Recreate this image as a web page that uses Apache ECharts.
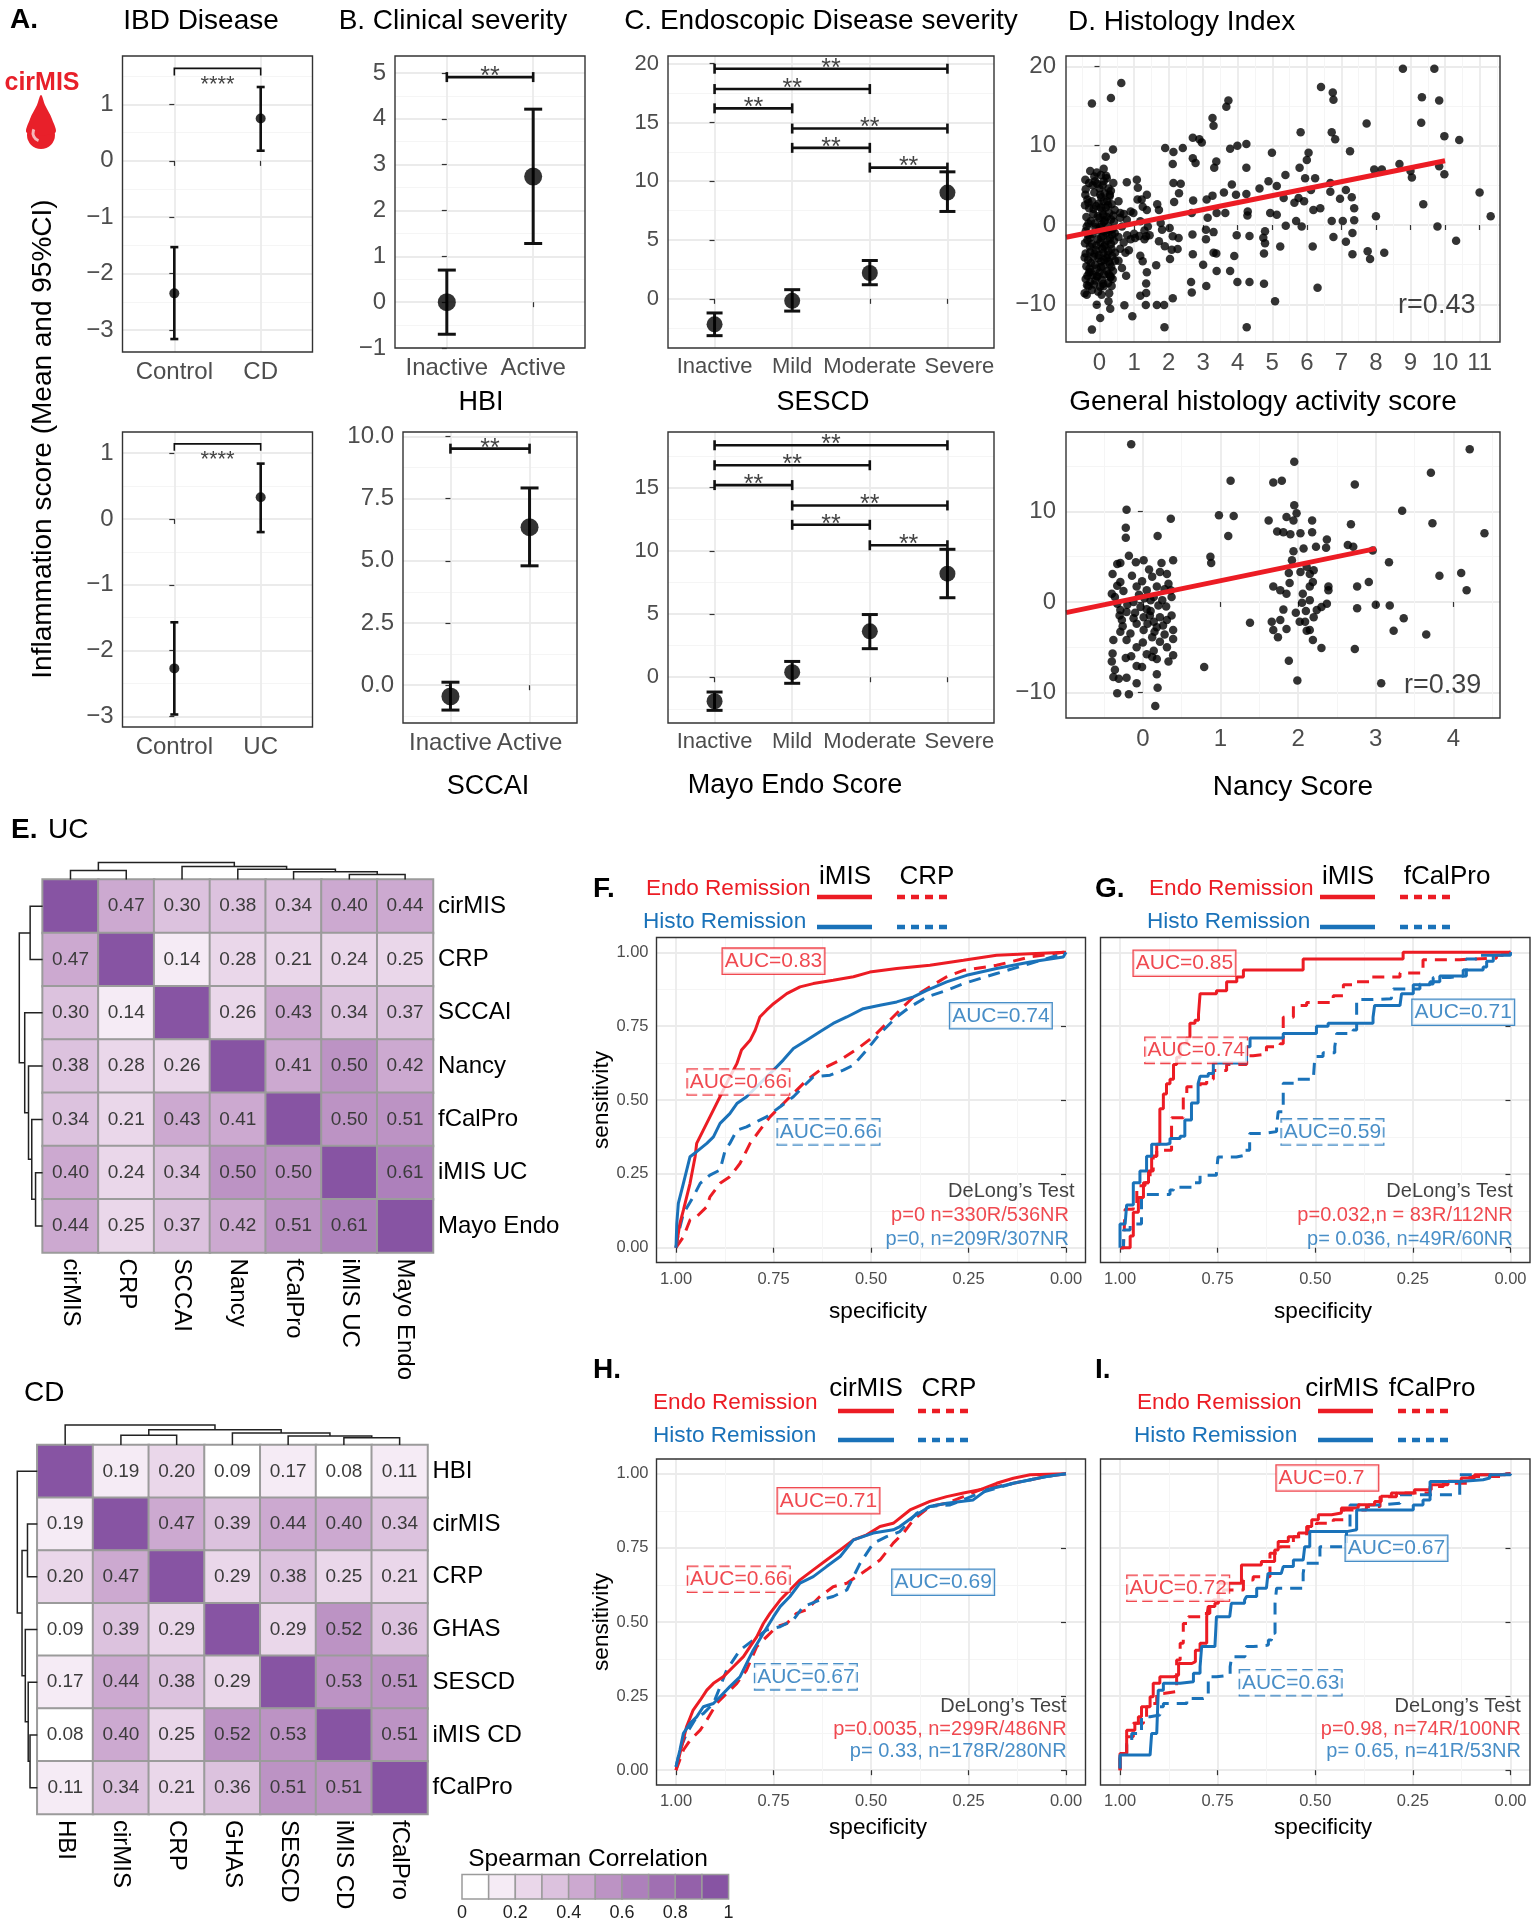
<!DOCTYPE html>
<html>
<head>
<meta charset="utf-8">
<script src="https://cdn.jsdelivr.net/npm/echarts@6.0.0/dist/echarts.min.js"></script>
<style>
  html, body { margin: 0; padding: 0; background: #fff; }
  #chart { width: 1537px; height: 1920px; }
</style>
</head>
<body>
<div id="chart"></div>
<script>
// ---------- data ----------
// A. IBD disease (mean and 95% CI)
const groupsCD = ["Control", "CD"]
const meanCD = [-2.35, 0.75]
const lowCD = [-3.16, 0.18]
const highCD = [-1.53, 1.31]
const groupsUC = ["Control", "UC"]
const meanUC = [-2.27, 0.33]
const lowUC = [-2.97, -0.2]
const highUC = [-1.57, 0.84]

// B. clinical severity
const activity = ["Inactive", "Active"]
const meanHBI = [0, 2.74]
const lowHBI = [-0.7, 1.28]
const highHBI = [0.7, 4.21]
const meanSCCAI = [-0.45, 6.35]
const lowSCCAI = [-1.0, 4.8]
const highSCCAI = [0.12, 7.93]

// C. endoscopic severity
const severity = ["Inactive", "Mild", "Moderate", "Severe"]
const meanSESCD = [-2.17, -0.17, 2.2, 9.04]
const lowSESCD = [-3.13, -1.04, 1.2, 7.43]
const highSESCD = [-1.2, 0.78, 3.26, 10.8]
const meanMayo = [-1.9, 0.4, 3.63, 8.19]
const lowMayo = [-2.62, -0.48, 2.26, 6.29]
const highMayo = [-1.17, 1.25, 4.96, 10.12]

// significance brackets: [from, to, height]
const bracketsCD = [[0, 1, 1.64]]
const bracketsUC = [[0, 1, 1.14]]
const bracketsHBI = [[0, 1, 4.91]]
const bracketsSCCAI = [[0, 1, 9.51]]
const bracketsSESCD = [[0, 3, 19.57], [0, 2, 17.84], [0, 1, 16.2], [1, 3, 14.48], [1, 2, 12.84], [2, 3, 11.16]]
const bracketsMayo = [[0, 3, 18.35], [0, 2, 16.77], [0, 1, 15.2], [1, 3, 13.59], [1, 2, 12.06], [2, 3, 10.44]]

// tick values
const ticksA = [-3, -2, -1, 0, 1]
const ticksHBI = [-1, 0, 1, 2, 3, 4, 5]
const ticksSCCAI = [0, 2.5, 5, 7.5, 10]
const ticksSESCD = [0, 5, 10, 15, 20]
const ticksMayo = [0, 5, 10, 15]
const ticksGhasX = [0, 1, 2, 3, 4, 5, 6, 7, 8, 9, 10, 11]
const ticksGhasY = [-10, 0, 10, 20]
const ticksNancyX = [0, 1, 2, 3, 4]
const ticksNancyY = [-10, 0, 10]
const ticksRoc = [0, 0.25, 0.5, 0.75, 1]

// D. histology index: [score, inflammation score]
const ghasPoints = [
  [-0.4,4.5],[-0.35,3.2],[-0.3,2.1],[-0.38,1.0],[-0.32,0.2],[-0.4,-0.8],[-0.35,-1.9],[-0.28,-2.7],[-0.4,-3.6],[-0.33,-4.4],[-0.38,-5.2],[-0.3,-6.0],[-0.4,-6.8],[-0.36,-7.6],
  [-0.2,5.0],[-0.15,4.1],[-0.22,3.0],[-0.1,2.4],[-0.18,1.4],[-0.25,0.5],[-0.12,-0.3],[-0.2,-1.1],[-0.05,-1.8],[-0.22,-2.4],[-0.1,-3.2],[-0.18,-4.0],[-0.25,-4.8],[-0.08,-5.5],[-0.2,-6.3],[-0.12,-7.0],[-0.22,-8.2],
  [0.0,4.6],[0.05,3.5],[-0.02,2.7],[0.08,1.8],[0.0,0.9],[0.06,0.1],[-0.03,-0.7],[0.1,-1.4],[0.02,-2.2],[0.08,-3.0],[-0.02,-3.8],[0.05,-4.6],[0.1,-5.2],[0.0,-6.0],[0.07,-6.9],[0.02,-7.8],
  [0.15,4.0],[0.22,3.0],[0.18,2.2],[0.28,1.5],[0.15,0.6],[0.25,-0.2],[0.2,-1.0],[0.3,-1.7],[0.16,-2.5],[0.26,-3.3],[0.2,-4.2],[0.3,-4.9],[0.22,-5.8],[0.32,-6.6],[0.25,-7.3],
  [0.35,2.6],[0.4,1.2],[0.38,-0.5],[0.42,-2.0],[0.35,-3.0],[0.45,-4.5],[0.38,-6.8],[0.42,0.4],[0.3,3.8],[0.12,5.5],
  [-0.42,2.5],[-0.37,-0.2],[-0.33,-1.3],[-0.42,-2.3],[-0.27,-3.4],[-0.43,-4.1],[-0.29,-5.5],[-0.35,-6.4],[-0.27,-7.2],[-0.43,-8.6],[-0.3,5.3],[-0.15,6.1],[-0.07,5.2],
  [-0.17,2.0],[-0.05,1.1],[-0.14,0.2],[-0.27,-1.6],[-0.09,-2.6],[-0.15,-3.6],[-0.03,-4.2],[-0.13,-5.0],[-0.26,-5.9],[-0.06,-6.5],[-0.16,-7.5],[-0.04,-8.4],[0.04,6.3],
  [0.09,5.0],[0.12,3.0],[0.04,2.2],[0.11,1.3],[0.13,0.4],[0.02,-0.3],[0.14,-0.8],[0.05,-1.6],[0.13,-2.7],[0.11,-3.5],[0.14,-4.4],[0.04,-5.3],[0.13,-6.2],[0.11,-7.4],
  [0.06,-8.8],[0.19,6.2],[0.26,4.6],[0.33,4.3],[0.25,2.5],[0.21,1.0],[0.33,0.7],[0.29,-0.7],[0.36,-1.2],[0.24,-2.0],[0.33,-2.4],[0.23,-3.8],[0.37,-3.9],[0.27,-4.6],
  [0.34,-5.3],[0.27,-6.2],[0.39,-5.8],[0.35,-7.7],[0.28,-8.6],[0.44,-1.0],[0.44,1.9],[0.45,-3.5],
  [-0.22,15.3],[0.33,16.0],[0.63,17.9],[0.39,9.5],[0.18,8.6],[0.12,7.1],[-0.27,6.8],[-0.08,6.6],[-0.41,5.7],[0.21,5.9],[0.4,5.3],[-0.13,5.5],[0.79,5.4],[1.08,5.7],[1.11,4.7],
  [-0.41,3.8],[0.02,3.8],[0.29,3.6],[1.37,3.8],[1.22,3.2],[-0.32,2.8],[1.67,2.6],[1.72,1.9],[0.6,1.5],[0.98,1.5],[1.37,1.9],[1.18,0.46],[0.79,0.67],[1.77,0.25],[1.81,-0.59],
  [2.03,-0.38],[2.12,-1.43],[2.29,-1.64],[1.35,-1.43],[1.03,-1.64],[1.72,-2.06],[1.89,-2.69],[2.09,-3.11],[2.26,-3.03],[2.04,-4.29],[1.18,-3.87],[1.25,-4.58],[1.64,-5.08],[1.37,-5.97],
  [0.65,-5.42],[0.77,-6.39],[1.35,-7.39],[1.35,-8.57],[1.18,-8.91],[2.12,-9.24],[-0.08,-10.04],[0.26,-9.62],[0.31,-10.55],[0.72,-10.13],[1.34,-10.08],[1.66,-10.08],[1.87,-10.08],
  [0.02,-11.72],[0.95,-11.51],[-0.22,-13.19],[1.88,-12.9],[-0.37,-8.78],[-0.32,-7.73],[0.12,-7.73],[-0.08,-6.47],[0.31,-6.47],
  [0.55,-1.5],[0.6,-3.0],[0.7,-2.2],[0.8,-1.3],[0.9,-1.8],[1.0,-1.1],[1.15,-1.4],[1.3,-0.7],[1.4,-0.2],[0.6,0.9],[0.7,1.4],[0.9,1.7],[1.25,2.3],[1.1,3.2],
  [0.55,-4.5],[0.75,-3.5],[0.85,-3.2],[1.3,-1.8],[1.45,-1.3],[0.55,3.0],[0.65,-0.2],
  [1.9,9.7],[2.14,9.2],[2.41,9.7],[2.12,7.7],[2.14,5.3],[2.35,5.2],[2.3,4.0],[2.16,2.9],[2.7,11.0],[2.89,10.8],[2.96,10.4],[2.7,8.4],[2.78,7.8],[2.71,3.1],[2.67,1.5],
  [2.69,-1.2],[2.7,-3.7],[2.65,-7.2],[2.67,-8.5],
  [3.27,13.5],[3.3,12.5],[3.38,8.0],[3.32,7.2],[3.27,3.7],[3.1,3.2],[3.13,0.9],[3.39,1.5],[3.3,-0.9],[3.08,-0.6],[3.08,-1.8],[3.3,-3.5],[3.38,-3.6],[3.0,-5.0],[3.39,-5.8],[3.09,-7.7],
  [3.67,14.9],[3.73,15.7],[3.78,9.6],[3.99,10.0],[4.25,10.2],[3.6,4.1],[3.83,5.1],[3.95,3.8],[3.64,1.5],[4.25,7.2],[4.25,3.9],[4.29,1.7],[4.28,1.2],[3.97,-1.3],[4.34,-1.4],
  [3.9,-3.9],[3.78,-5.8],[3.99,-7.2],[4.34,-7.2],[4.26,-12.9],
  [4.63,4.6],[4.89,5.5],[4.99,9.1],[5.13,4.9],[4.94,1.5],[5.13,1.3],[4.79,-0.8],[4.74,-1.6],[4.79,-2.3],[5.23,-2.7],[4.76,-3.6],[4.76,-7.4],[5.08,-9.6],
  [5.38,6.3],[5.33,3.4],[5.39,-0.1],[5.69,0.5],[5.85,-0.2],[5.64,2.8],[5.76,3.4],[5.95,5.9],[5.82,11.7],[5.79,7.2],[6.0,8.2],[6.05,9.1],[5.92,3.0],[6.12,4.4],[6.24,5.9],
  [6.19,1.9],[6.39,2.1],[6.17,-2.7],[6.31,-7.9],
  [6.41,17.4],[6.75,16.7],[6.77,15.8],[6.72,11.7],[6.82,10.8],[6.68,5.3],[6.68,4.2],[6.72,0.5],[6.77,-1.5],[6.96,3.3],[7.04,0.5],[7.13,4.4],[7.13,-2.1],[7.25,9.3],
  [7.3,3.5],[7.37,2.1],[7.37,0.6],[7.32,-1.0],[7.32,-3.7],
  [7.73,12.8],[7.95,7.0],[8.17,7.0],[8.0,1.1],[7.76,-3.3],[7.83,-4.3],[8.24,-3.5],[8.68,7.7],[8.78,19.7],[9.0,6.8],[9.04,6.0],[9.33,16.1],[9.31,12.9],[9.37,2.6],
  [9.69,19.7],[9.83,15.7],[9.98,11.2],[9.83,7.4],[9.98,6.4],[9.78,-0.2],[10.32,-2.0],[10.41,10.7],[11.0,4.1],[11.32,1.1]
]
const ghasFit = [[-0.97, -1.55], [10, 8.1]]
const ghasR = "r=0.43"

const nancyPoints = [
  [-0.15,17.45],[-0.21,10.2],[-0.22,8.2],[-0.22,7.1],[-0.18,5.1],[-0.09,4.4],[0.01,4.6],[-0.33,4.2],[-0.29,4.3],[0.36,9.2],[0.19,7.3],[0.39,4.6],[0.24,4.3],[-0.39,3.1],
  [-0.33,1.8],[-0.4,0.9],[-0.29,2.2],[-0.36,0.55],[-0.08,1.7],[-0.01,2.3],[0.12,2.8],[0.18,1.7],[0.22,3.3],[0.31,3.1],[0.33,2.0],[0.36,1.3],[0.37,0.55],[0.05,1.3],[0.14,0.55],
  [-0.12,0],[-0.03,-0.55],[-0.29,-0.9],[-0.21,-1.1],[-0.12,-1.8],[-0.27,-2.0],[0.01,-1.7],[0.09,-1.5],[0.14,-2.2],[0.22,-1.7],[0.18,-2.8],[0.31,-2.0],[0.37,-1.5],[0.39,-3.1],
  [0.39,-4.1],[-0.29,-3.3],[-0.16,-3.5],[-0.21,-4.2],[-0.08,-5.0],[-0.38,-4.2],[0.01,-3.1],[0.12,-3.9],[0.22,-4.4],[0.31,-5.0],[0.39,-5.9],[0.14,-5.4],[0.12,-6.1],[0.18,-6.3],
  [-0.39,-5.7],[-0.4,-6.6],[-0.36,-7.5],[-0.38,-8.3],[-0.31,-8.5],[-0.21,-8.4],[-0.22,-6.2],[-0.08,-7.1],[-0.01,-7.2],[-0.08,-9.0],[0.18,-8.0],[0.19,-9.5],[-0.33,-10.1],
  [-0.18,-10.2],[0.16,-11.5],[-0.08,-2.4],[-0.2,-0.3],[0.05,-0.8],[0.25,0.2],[0.3,-0.5],[-0.05,0.8],[0.1,-1.0],[0.2,-0.4],[0.28,-3.6],[-0.25,1.2],[0.0,-4.5],[-0.3,-1.5],
  [0.08,3.6],[0.15,-3.3],[-0.26,-2.7],[0.06,-2.4],[0.26,-2.6],[-0.1,-1.2],[0.1,0.2],[-0.33,-0.2],[0.02,0.4],[0.28,1.4],[-0.14,2.9],[0.33,-6.6],[-0.15,-6.0],[0.05,-5.8],
  [0.87,5.0],[0.88,4.3],[0.79,-7.2],[0.98,9.6],[1.1,7.3],[1.13,13.4],[1.17,9.5],[1.38,-2.3],[1.62,9.0],[1.68,13.2],[1.79,13.4],[1.73,7.8],[1.81,7.7],[1.9,7.5],[1.85,9.4],
  [1.94,9.0],[1.95,10.7],[1.98,9.8],[1.95,15.5],[2.03,7.6],[2.18,7.7],[2.18,9.0],[2.07,5.9],[1.94,5.6],[2.23,6.1],[2.37,6.9],[2.36,6.0],[1.92,4.6],[1.88,3.2],[2.03,3.3],
  [2.11,3.9],[2.15,3.1],[2.2,3.5],[1.89,2.1],[1.68,1.7],[1.77,1.3],[1.85,0.9],[2.06,0.9],[2.15,1.7],[2.19,2.2],[2.39,1.7],[2.39,1.3],[2.05,-0.1],[2.15,0.2],[2.3,-0.55],
  [2.37,-0.2],[2.24,-0.9],[1.97,-1.2],[2.1,-1.0],[2.2,-1.7],[1.81,-0.85],[1.66,-2.2],[1.77,-2.0],[1.68,-3.1],[1.85,-3.0],[1.74,-3.9],[2.02,-2.2],[2.09,-2.2],[2.15,-3.1],
  [2.11,-3.2],[2.19,-4.2],[2.3,-5.1],[1.88,-6.5],[1.99,-8.7],
  [2.68,8.6],[2.64,6.3],[2.71,6.1],[2.73,13.0],[2.76,1.7],[2.76,-0.7],[2.73,-5.2],[2.91,2.2],[2.96,5.7],[3.0,-0.3],[3.07,-9.0],[3.17,4.4],[3.18,-0.4],[3.23,-3.2],
  [3.34,10.1],[3.36,-1.8],[3.65,-3.6],[3.71,14.3],[3.73,8.7],[3.82,2.9],[4.1,3.2],[4.17,1.3],[4.21,16.9],[4.4,7.6]
]
const nancyFit = [[-0.99, -1.18], [3, 5.9]]
const nancyR = "r=0.39"

// E. Spearman correlation matrices
const ucNames = ["cirMIS", "CRP", "SCCAI", "Nancy", "fCalPro", "iMIS UC", "Mayo Endo"]
const ucCorr = [
  [1, 0.47, 0.30, 0.38, 0.34, 0.40, 0.44],
  [0.47, 1, 0.14, 0.28, 0.21, 0.24, 0.25],
  [0.30, 0.14, 1, 0.26, 0.43, 0.34, 0.37],
  [0.38, 0.28, 0.26, 1, 0.41, 0.50, 0.42],
  [0.34, 0.21, 0.43, 0.41, 1, 0.50, 0.51],
  [0.40, 0.24, 0.34, 0.50, 0.50, 1, 0.61],
  [0.44, 0.25, 0.37, 0.42, 0.51, 0.61, 1]
]
const cdNames = ["HBI", "cirMIS", "CRP", "GHAS", "SESCD", "iMIS CD", "fCalPro"]
const cdCorr = [
  [1, 0.19, 0.20, 0.09, 0.17, 0.08, 0.11],
  [0.19, 1, 0.47, 0.39, 0.44, 0.40, 0.34],
  [0.20, 0.47, 1, 0.29, 0.38, 0.25, 0.21],
  [0.09, 0.39, 0.29, 1, 0.29, 0.52, 0.36],
  [0.17, 0.44, 0.38, 0.29, 1, 0.53, 0.51],
  [0.08, 0.40, 0.25, 0.52, 0.53, 1, 0.51],
  [0.11, 0.34, 0.21, 0.36, 0.51, 0.51, 1]
]
// dendrogram merges: [a, b, height]; index >= 7 is an earlier merge
const ucMerges = [[0, 1, 23], [5, 6, 13], [4, 8, 20], [3, 9, 26], [2, 10, 33], [7, 11, 43]]
const cdMerges = [[1, 2, 27], [5, 6, 20], [4, 8, 25], [3, 9, 33], [7, 10, 42], [0, 11, 55]]
const corrBreaks = [0, 0.1, 0.2, 0.3, 0.4, 0.5, 0.6, 0.7, 0.8, 0.9, 1.0]
const corrColors = ["#ffffff", "#f5ebf5", "#ead7ea", "#dcc2de", "#cca9d0", "#bc93c4", "#ad80bb", "#a06fb2", "#9461aa", "#8754a3"]
const legendTicks = [0, 0.2, 0.4, 0.6, 0.8, 1]

// F-I. ROC curves: [specificity, sensitivity]
const rocF_iMIS_endo = [[1,0],[0.99,0.082],[0.981,0.127],[0.964,0.218],[0.951,0.308],[0.947,0.353],[0.93,0.398],[0.913,0.443],[0.896,0.488],[0.879,0.533],[0.862,0.578],[0.844,0.623],[0.832,0.669],[0.81,0.702],[0.797,0.736],[0.785,0.781],[0.768,0.804],[0.75,0.826],[0.716,0.86],[0.682,0.883],[0.648,0.894],[0.597,0.905],[0.545,0.917],[0.503,0.933],[0.434,0.945],[0.349,0.956],[0.263,0.973],[0.178,0.99],[0.092,0.995],[0,1]]
const rocF_iMIS_histo = [[1,0],[0.998,0.082],[0.994,0.15],[0.981,0.218],[0.964,0.308],[0.947,0.325],[0.921,0.353],[0.904,0.375],[0.887,0.421],[0.862,0.454],[0.844,0.488],[0.819,0.511],[0.785,0.556],[0.75,0.601],[0.725,0.635],[0.699,0.674],[0.665,0.702],[0.631,0.731],[0.597,0.759],[0.562,0.781],[0.52,0.809],[0.477,0.821],[0.434,0.832],[0.391,0.849],[0.357,0.871],[0.306,0.9],[0.255,0.922],[0.178,0.945],[0.092,0.967],[0.007,0.984],[0,1]]
const rocF_CRP_endo = [[1,0],[0.981,0.037],[0.964,0.094],[0.947,0.105],[0.921,0.139],[0.913,0.172],[0.887,0.218],[0.862,0.24],[0.836,0.285],[0.81,0.353],[0.785,0.398],[0.759,0.443],[0.733,0.477],[0.699,0.522],[0.665,0.567],[0.631,0.601],[0.579,0.635],[0.528,0.68],[0.494,0.714],[0.46,0.759],[0.426,0.804],[0.391,0.849],[0.349,0.883],[0.306,0.917],[0.263,0.939],[0.178,0.956],[0.092,0.984],[0.007,1],[0,1]]
const rocF_CRP_histo = [[1,0],[0.994,0.048],[0.981,0.116],[0.956,0.172],[0.938,0.218],[0.913,0.246],[0.887,0.263],[0.874,0.33],[0.862,0.353],[0.844,0.398],[0.819,0.409],[0.785,0.432],[0.768,0.443],[0.733,0.477],[0.699,0.511],[0.674,0.545],[0.648,0.578],[0.605,0.584],[0.571,0.601],[0.545,0.618],[0.511,0.669],[0.477,0.725],[0.434,0.781],[0.4,0.815],[0.357,0.849],[0.306,0.871],[0.263,0.894],[0.178,0.928],[0.092,0.962],[0.007,0.995],[0,1]]

const rocG_iMIS_endo = [[1,0],[0.974,0.04],[0.966,0.12],[0.953,0.17],[0.94,0.22],[0.927,0.26],[0.919,0.31],[0.906,0.35],[0.898,0.47],[0.889,0.52],[0.881,0.555],[0.872,0.57],[0.863,0.62],[0.855,0.645],[0.846,0.69],[0.829,0.71],[0.821,0.76],[0.808,0.77],[0.799,0.79],[0.795,0.86],[0.753,0.87],[0.727,0.9],[0.701,0.916],[0.684,0.94],[0.531,0.977],[0.275,1],[0,1]]
const rocG_iMIS_histo = [[1,0],[1,0.08],[0.987,0.08],[0.983,0.145],[0.966,0.15],[0.966,0.22],[0.949,0.23],[0.949,0.26],[0.932,0.31],[0.919,0.35],[0.881,0.353],[0.872,0.37],[0.846,0.377],[0.834,0.432],[0.817,0.49],[0.8,0.555],[0.795,0.58],[0.774,0.59],[0.761,0.625],[0.676,0.68],[0.667,0.71],[0.582,0.725],[0.497,0.75],[0.467,0.76],[0.352,0.78],[0.348,0.82],[0.283,0.82],[0.279,0.86],[0.249,0.87],[0.249,0.89],[0.206,0.9],[0.181,0.92],[0.121,0.94],[0.07,0.95],[0.061,0.97],[0.044,0.99],[0,1]]
const rocG_fcal_endo = [[1,0],[0.991,0.01],[0.987,0.13],[0.966,0.14],[0.957,0.21],[0.936,0.22],[0.923,0.26],[0.915,0.31],[0.906,0.33],[0.881,0.33],[0.868,0.44],[0.838,0.51],[0.829,0.545],[0.795,0.555],[0.778,0.57],[0.761,0.6],[0.727,0.62],[0.676,0.65],[0.659,0.655],[0.625,0.68],[0.59,0.69],[0.582,0.78],[0.556,0.82],[0.522,0.83],[0.454,0.853],[0.428,0.89],[0.403,0.9],[0.36,0.916],[0.283,0.93],[0.224,0.975],[0.13,0.98],[0.036,0.99],[0.019,1],[0,1]]
const rocG_fcal_histo = [[1,0],[0.991,0.06],[0.974,0.08],[0.945,0.17],[0.932,0.18],[0.872,0.195],[0.863,0.205],[0.812,0.22],[0.795,0.245],[0.753,0.255],[0.749,0.307],[0.702,0.313],[0.681,0.33],[0.668,0.387],[0.633,0.393],[0.599,0.41],[0.595,0.46],[0.582,0.5],[0.582,0.557],[0.548,0.57],[0.505,0.574],[0.501,0.647],[0.48,0.66],[0.45,0.68],[0.445,0.725],[0.403,0.737],[0.394,0.84],[0.352,0.843],[0.305,0.85],[0.3,0.876],[0.232,0.893],[0.198,0.915],[0.155,0.92],[0.113,0.977],[0.078,0.99],[0.036,0.994],[0,1]]

const rocH_cir_endo = [[1,0],[0.99,0.056],[0.973,0.146],[0.956,0.203],[0.938,0.236],[0.921,0.27],[0.904,0.293],[0.879,0.315],[0.853,0.349],[0.827,0.383],[0.81,0.417],[0.793,0.45],[0.776,0.495],[0.759,0.529],[0.733,0.574],[0.708,0.608],[0.682,0.642],[0.648,0.676],[0.614,0.709],[0.579,0.743],[0.545,0.777],[0.511,0.794],[0.477,0.822],[0.443,0.833],[0.4,0.878],[0.349,0.907],[0.306,0.923],[0.263,0.935],[0.221,0.946],[0.178,0.968],[0.135,0.985],[0.092,0.997],[0,1]]
const rocH_cir_histo = [[1,0.011],[0.99,0.068],[0.981,0.124],[0.964,0.158],[0.947,0.18],[0.93,0.214],[0.904,0.225],[0.887,0.248],[0.862,0.282],[0.836,0.315],[0.819,0.36],[0.802,0.405],[0.776,0.462],[0.75,0.518],[0.733,0.552],[0.708,0.586],[0.682,0.631],[0.648,0.653],[0.614,0.687],[0.579,0.721],[0.545,0.777],[0.494,0.8],[0.443,0.811],[0.426,0.822],[0.391,0.856],[0.349,0.89],[0.306,0.901],[0.238,0.912],[0.203,0.946],[0.135,0.968],[0.05,0.991],[0,1]]
const rocH_crp_endo = [[1,0],[0.981,0.068],[0.964,0.101],[0.938,0.135],[0.921,0.169],[0.896,0.225],[0.87,0.259],[0.844,0.293],[0.819,0.338],[0.793,0.417],[0.768,0.45],[0.742,0.484],[0.716,0.495],[0.691,0.529],[0.665,0.541],[0.631,0.586],[0.597,0.619],[0.562,0.631],[0.537,0.653],[0.511,0.676],[0.477,0.709],[0.443,0.766],[0.417,0.8],[0.391,0.845],[0.349,0.89],[0.306,0.901],[0.263,0.923],[0.221,0.946],[0.135,0.968],[0.05,0.991],[0,1]]
const rocH_crp_histo = [[1,0.011],[0.99,0.068],[0.973,0.124],[0.947,0.18],[0.93,0.191],[0.904,0.225],[0.87,0.338],[0.836,0.405],[0.802,0.439],[0.768,0.473],[0.733,0.484],[0.699,0.507],[0.674,0.552],[0.631,0.574],[0.597,0.586],[0.562,0.608],[0.528,0.698],[0.494,0.766],[0.46,0.788],[0.426,0.805],[0.383,0.867],[0.349,0.89],[0.297,0.895],[0.221,0.935],[0.135,0.968],[0.05,0.991],[0,1]]

const rocI_cir_endo = [[1,0],[1,0.056],[0.983,0.1],[0.983,0.135],[0.962,0.158],[0.953,0.18],[0.945,0.214],[0.923,0.248],[0.915,0.293],[0.898,0.315],[0.863,0.321],[0.85,0.36],[0.816,0.366],[0.807,0.405],[0.795,0.428],[0.778,0.518],[0.774,0.552],[0.757,0.563],[0.748,0.631],[0.689,0.642],[0.689,0.692],[0.638,0.704],[0.604,0.743],[0.595,0.772],[0.569,0.788],[0.543,0.8],[0.518,0.822],[0.509,0.845],[0.492,0.862],[0.458,0.868],[0.433,0.885],[0.39,0.896],[0.348,0.907],[0.331,0.924],[0.305,0.935],[0.246,0.946],[0.203,0.963],[0.16,0.975],[0.126,0.986],[0.092,0.997],[0.015,1],[0,1]]
const rocI_cir_histo = [[1,0.006],[1,0.051],[0.923,0.051],[0.919,0.124],[0.906,0.124],[0.902,0.27],[0.889,0.293],[0.846,0.298],[0.812,0.327],[0.795,0.349],[0.791,0.417],[0.757,0.423],[0.753,0.518],[0.719,0.524],[0.715,0.563],[0.681,0.574],[0.676,0.586],[0.65,0.614],[0.625,0.619],[0.621,0.664],[0.587,0.67],[0.582,0.687],[0.556,0.709],[0.531,0.715],[0.527,0.754],[0.514,0.766],[0.514,0.805],[0.42,0.811],[0.394,0.833],[0.394,0.878],[0.249,0.884],[0.249,0.895],[0.224,0.912],[0.206,0.935],[0.206,0.974],[0.13,0.98],[0.07,0.986],[0.053,0.997],[0,1]]
const rocI_fcal_endo = [[1,0],[1,0.056],[0.983,0.113],[0.966,0.158],[0.94,0.18],[0.932,0.214],[0.919,0.225],[0.906,0.259],[0.889,0.265],[0.855,0.372],[0.846,0.428],[0.838,0.495],[0.825,0.518],[0.787,0.529],[0.77,0.552],[0.761,0.574],[0.735,0.608],[0.684,0.642],[0.659,0.653],[0.616,0.732],[0.59,0.754],[0.556,0.788],[0.522,0.822],[0.497,0.833],[0.454,0.845],[0.428,0.878],[0.369,0.89],[0.334,0.923],[0.292,0.935],[0.206,0.957],[0.172,0.968],[0.104,0.991],[0.019,1],[0,1]]
const rocI_fcal_histo = [[1,0.006],[1,0.056],[0.983,0.09],[0.97,0.124],[0.945,0.18],[0.923,0.186],[0.898,0.214],[0.889,0.225],[0.829,0.242],[0.787,0.248],[0.774,0.315],[0.753,0.321],[0.718,0.349],[0.714,0.383],[0.68,0.405],[0.676,0.417],[0.659,0.422],[0.62,0.439],[0.612,0.462],[0.603,0.563],[0.599,0.614],[0.539,0.614],[0.531,0.664],[0.527,0.698],[0.488,0.754],[0.471,0.754],[0.42,0.805],[0.411,0.895],[0.334,0.901],[0.283,0.929],[0.164,0.929],[0.13,0.997],[0.078,0.997],[0.027,1],[0,1]]

// AUC labels: [text, specificity, sensitivity] in order endo/marker1, histo/marker1, endo/marker2, histo/marker2
const aucF = [["AUC=0.83", 0.75, 0.97], ["AUC=0.74", 0.167, 0.785], ["AUC=0.66", 0.84, 0.561], ["AUC=0.66", 0.609, 0.392]]
const aucG = [["AUC=0.85", 0.835, 0.963], ["AUC=0.71", 0.121, 0.797], ["AUC=0.74", 0.805, 0.668], ["AUC=0.59", 0.456, 0.392]]
const aucH = [["AUC=0.71", 0.609, 0.909], ["AUC=0.69", 0.315, 0.634], ["AUC=0.66", 0.839, 0.644], ["AUC=0.67", 0.667, 0.315]]
const aucI = [["AUC=0.7  ", 0.469, 0.986], ["AUC=0.67", 0.292, 0.749], ["AUC=0.72", 0.851, 0.614], ["AUC=0.63", 0.563, 0.295]]

// DeLong notes: [text, right edge specificity, sensitivity]
const delongF = [["DeLong\u2019s Test", -0.023, 0.19], ["p=0 n=330R/536NR", -0.009, 0.108], ["p=0, n=209R/307NR", -0.009, 0.028]]
const delongG = [["DeLong\u2019s Test", -0.007, 0.189], ["p=0.032,n = 83R/112NR", -0.007, 0.108], ["p= 0.036, n=49R/60NR", -0.007, 0.028]]
const delongH = [["DeLong\u2019s Test", -0.003, 0.214], ["p=0.0035, n=299R/486NR", -0.003, 0.137], ["p= 0.33, n=178R/280NR", -0.003, 0.062]]
const delongI = [["DeLong\u2019s Test", -0.028, 0.214], ["p=0.98, n=74R/100NR", -0.028, 0.137], ["p= 0.65, n=41R/53NR", -0.028, 0.062]]

// ---------- layout and style ----------
const FONT = "'Liberation Sans', Arial, Helvetica, sans-serif"
const RED = "#ec1c24"
const BLUE = "#1a72b9"
const TICK = "#4d4d4d"
const DASH = [12, 8]

const layout = [
  { left: 122.5, top: 56, width: 190, height: 296 },      // 0 A top
  { left: 122.5, top: 432, width: 190, height: 295 },     // 1 A bottom
  { left: 395, top: 56, width: 190, height: 292 },        // 2 B top
  { left: 403, top: 432, width: 174, height: 291 },       // 3 B bottom
  { left: 668, top: 56, width: 326, height: 292 },        // 4 C top
  { left: 668, top: 432, width: 326, height: 291 },       // 5 C bottom
  { left: 1066, top: 56, width: 434, height: 286 },       // 6 D top
  { left: 1066, top: 432, width: 434, height: 286 },      // 7 D bottom
  { left: 656.5, top: 937.5, width: 429, height: 325 },   // 8 F
  { left: 1100.5, top: 937.5, width: 429.5, height: 325 },// 9 G
  { left: 656.5, top: 1459, width: 429, height: 326 },    // 10 H
  { left: 1100.5, top: 1459, width: 429.5, height: 326 }, // 11 I
  { left: 42.6, top: 879.6, width: 390.4, height: 373 },  // 12 UC heatmap
  { left: 37.3, top: 1445, width: 390.2, height: 369 },   // 13 CD heatmap
  { left: 42.6, top: 862.6, width: 390.4, height: 17 },   // 14 UC dendrogram top
  { left: 19.3, top: 879.6, width: 23.3, height: 373 },   // 15 UC dendrogram left
  { left: 37.3, top: 1425, width: 390.2, height: 20 },    // 16 CD dendrogram top
  { left: 17.3, top: 1445, width: 20, height: 369 },      // 17 CD dendrogram left
  { left: 462, top: 1874.6, width: 266.6, height: 24.4 }  // 18 colour legend
]

const minus = v => String(v).replace("-", "\u2212")

function ggAxis(gi, o) {
  return {
    type: "value", gridIndex: gi, min: o.min, max: o.max, inverse: !!o.inverse,
    minInterval: o.step, maxInterval: o.step,
    axisLine: { show: false },
    axisTick: { show: true, length: 5, lineStyle: { color: "#333", width: 1.2 }, customValues: o.ticks },
    axisLabel: {
      show: o.labels !== false, customValues: o.ticks, formatter: o.fmt || minus,
      fontFamily: FONT, fontSize: o.size || 24, color: TICK, margin: o.margin || 9,
      hideOverlap: false, showMinLabel: true, showMaxLabel: true, rich: o.rich
    },
    splitLine: { show: true, lineStyle: { color: "#ebebeb", width: 1.8 } },
    minorTick: { show: false, splitNumber: 2 },
    minorSplitLine: { show: o.minor !== false, lineStyle: { color: "#f5f5f5", width: 1 } }
  }
}
const hiddenAxis = (gi, min, max, inverse) => ({ type: "value", gridIndex: gi, min, max, inverse: !!inverse, show: false })

// axis i always belongs to grid i
const xAxes = new Array(layout.length)
const yAxes = new Array(layout.length)
const series = []

// ---------- A-C: mean and CI panels ----------
const ciPanels = [
  { g: 0, cats: groupsCD, mean: meanCD, low: lowCD, high: highCD, br: bracketsCD, stars: "****", kind: "A", y: [-3.39, 1.86], ticks: ticksA, step: 1 },
  { g: 1, cats: groupsUC, mean: meanUC, low: lowUC, high: highUC, br: bracketsUC, stars: "****", kind: "A", y: [-3.16, 1.32], ticks: ticksA, step: 1 },
  { g: 2, cats: activity, mean: meanHBI, low: lowHBI, high: highHBI, br: bracketsHBI, stars: "**", kind: "B", y: [-1, 5.37], ticks: ticksHBI, step: 1 },
  { g: 3, cats: activity, mean: meanSCCAI, low: lowSCCAI, high: highSCCAI, br: bracketsSCCAI, stars: "**", kind: "B", y: [-1.52, 10.18], ticks: ticksSCCAI, step: 2.5, fmt: v => v.toFixed(1) },
  { g: 4, cats: severity, mean: meanSESCD, low: lowSESCD, high: highSESCD, br: bracketsSESCD, stars: "**", kind: "C", y: [-4.18, 20.65], ticks: ticksSESCD, step: 5 },
  { g: 5, cats: severity, mean: meanMayo, low: lowMayo, high: highMayo, br: bracketsMayo, stars: "**", kind: "C", y: [-3.62, 19.4], ticks: ticksMayo, step: 5 }
]
const kindStyle = {
  A: { cap: 4, lw: 2.6, dot: 10, brw: 1.6, tick: 7, star: 22, starPos: "bottom", starDist: 5, label: 24 },
  B: { cap: 9, lw: 3, dot: 18, brw: 2.6, tick: 0, cap2: 5, star: 25, starPos: "top", starDist: -13, label: 24 },
  C: { cap: 8, lw: 3, dot: 16, brw: 2.6, tick: 0, cap2: 5, star: 25, starPos: "top", starDist: -13, label: 22 }
}

ciPanels.forEach(p => {
  const st = kindStyle[p.kind]
  const n = p.cats.length
  // the last category label sits a little to the right in the figure
  const last = n - 1
  xAxes[p.g] = ggAxis(p.g, {
    min: -0.6, max: n - 0.4, step: 1, ticks: p.cats.map((c, i) => i),
    fmt: v => (n > 2 && Math.round(v) === last ? "{s|" + p.cats[last] + "}" : p.cats[Math.round(v)] || ""),
    rich: { s: { padding: [0, 0, 0, 24], fontFamily: FONT, fontSize: st.label, color: TICK } },
    minor: false, size: st.label, margin: 8
  })
  yAxes[p.g] = ggAxis(p.g, { min: p.y[0], max: p.y[1], step: p.step, ticks: p.ticks, fmt: p.fmt, size: st.label, margin: 9 })

  series.push({
    type: "custom", xAxisIndex: p.g, yAxisIndex: p.g, silent: true, z: 3,
    data: p.low.map((l, i) => [i, l, p.high[i]]),
    renderItem(params, api) {
      const x = api.value(0)
      const lo = api.coord([x, api.value(1)])
      const hi = api.coord([x, api.value(2)])
      const style = { stroke: "#111", lineWidth: st.lw }
      return {
        type: "group", children: [
          { type: "line", shape: { x1: lo[0], y1: lo[1], x2: hi[0], y2: hi[1] }, style },
          { type: "line", shape: { x1: lo[0] - st.cap, y1: lo[1], x2: lo[0] + st.cap, y2: lo[1] }, style },
          { type: "line", shape: { x1: hi[0] - st.cap, y1: hi[1], x2: hi[0] + st.cap, y2: hi[1] }, style }
        ]
      }
    }
  })
  series.push({
    type: "scatter", xAxisIndex: p.g, yAxisIndex: p.g, silent: true, z: 4,
    symbolSize: st.dot, itemStyle: { color: "#000" },
    data: p.mean.map((m, i) => [i, m])
  })
  series.push({
    type: "custom", xAxisIndex: p.g, yAxisIndex: p.g, silent: true, z: 3,
    data: p.br,
    renderItem(params, api) {
      const y = api.value(2)
      const a = api.coord([api.value(0), y])
      const b = api.coord([api.value(1), y])
      const style = { stroke: "#111", lineWidth: st.brw, fill: "none" }
      if (p.kind === "A") {
        return { type: "polyline", shape: { points: [[a[0], a[1] + st.tick], a, b, [b[0], b[1] + st.tick]] }, style }
      }
      return {
        type: "group", children: [
          { type: "line", shape: { x1: a[0], y1: a[1], x2: b[0], y2: b[1] }, style },
          { type: "line", shape: { x1: a[0], y1: a[1] - st.cap2, x2: a[0], y2: a[1] + st.cap2 }, style },
          { type: "line", shape: { x1: b[0], y1: b[1] - st.cap2, x2: b[0], y2: b[1] + st.cap2 }, style }
        ]
      }
    }
  })
  series.push({
    type: "scatter", xAxisIndex: p.g, yAxisIndex: p.g, silent: true, z: 5,
    symbolSize: 1, itemStyle: { color: "rgba(0,0,0,0)" },
    label: {
      show: true, formatter: p.stars, position: st.starPos, distance: st.starDist,
      fontFamily: FONT, fontSize: st.star, color: "#111"
    },
    data: p.br.map(b => [(b[0] + b[1]) / 2, b[2]])
  })
})

// ---------- D: scatter with fitted line ----------
const scatterPanels = [
  { g: 6, pts: ghasPoints, fit: ghasFit, r: ghasR, rPos: [9.76, -10.2], x: [-0.97, 11.59], y: [-14.75, 21.3], xt: ticksGhasX, yt: ticksGhasY },
  { g: 7, pts: nancyPoints, fit: nancyFit, r: nancyR, rPos: [3.86, -9.3], x: [-0.99, 4.6], y: [-12.84, 18.8], xt: ticksNancyX, yt: ticksNancyY }
]
scatterPanels.forEach(p => {
  xAxes[p.g] = ggAxis(p.g, { min: p.x[0], max: p.x[1], step: 1, ticks: p.xt, size: 24, margin: 9 })
  yAxes[p.g] = ggAxis(p.g, { min: p.y[0], max: p.y[1], step: 10, ticks: p.yt, size: 24, margin: 10 })
  series.push({
    type: "scatter", xAxisIndex: p.g, yAxisIndex: p.g, silent: true, z: 3,
    symbolSize: 8.5, itemStyle: { color: "#000" }, data: p.pts
  })
  series.push({
    type: "line", xAxisIndex: p.g, yAxisIndex: p.g, silent: true, z: 4,
    showSymbol: false, symbol: "none", lineStyle: { color: RED, width: 5 }, data: p.fit
  })
  series.push({
    type: "scatter", xAxisIndex: p.g, yAxisIndex: p.g, silent: true, z: 5,
    symbolSize: 1, itemStyle: { color: "rgba(0,0,0,0)" },
    label: { show: true, position: "inside", formatter: p.r, fontFamily: FONT, fontSize: 27, color: "#111" },
    data: [p.rPos]
  })
})

// ---------- F-I: ROC panels ----------
const rocPanels = [
  { g: 8, curves: [rocF_iMIS_endo, rocF_iMIS_histo, rocF_CRP_endo, rocF_CRP_histo], auc: aucF, notes: delongF, step: false, yLabels: true },
  { g: 9, curves: [rocG_iMIS_endo, rocG_iMIS_histo, rocG_fcal_endo, rocG_fcal_histo], auc: aucG, notes: delongG, step: true, yLabels: false },
  { g: 10, curves: [rocH_cir_endo, rocH_cir_histo, rocH_crp_endo, rocH_crp_histo], auc: aucH, notes: delongH, step: false, yLabels: true },
  { g: 11, curves: [rocI_cir_endo, rocI_cir_histo, rocI_fcal_endo, rocI_fcal_histo], auc: aucI, notes: delongI, step: true, yLabels: false }
]
const curveColor = [RED, BLUE, RED, BLUE]
const curveDash = ["solid", "solid", DASH, DASH]
const noteColor = ["#111", RED, BLUE]
rocPanels.forEach(p => {
  xAxes[p.g] = ggAxis(p.g, { min: -0.05, max: 1.05, inverse: true, step: 0.25, ticks: ticksRoc, fmt: v => v.toFixed(2), size: 16.5, margin: 8 })
  yAxes[p.g] = ggAxis(p.g, { min: -0.05, max: 1.05, step: 0.25, ticks: ticksRoc, fmt: v => v.toFixed(2), size: 16.5, margin: 8, labels: p.yLabels })
  // dashed curves first so the solid ones sit on top, as in the figure
  ;[2, 3, 0, 1].forEach(k => {
    series.push({
      type: "line", xAxisIndex: p.g, yAxisIndex: p.g, silent: true, z: 3,
      showSymbol: false, symbol: "none", step: p.step ? "end" : false,
      lineStyle: { color: curveColor[k], width: 3, type: curveDash[k] },
      data: p.curves[k]
    })
  })
  series.push({
    type: "scatter", xAxisIndex: p.g, yAxisIndex: p.g, silent: true, z: 6,
    symbolSize: 1, itemStyle: { color: "rgba(0,0,0,0)" },
    data: p.auc.map((a, k) => ({
      value: [a[1], a[2]],
      label: {
        show: true, position: "inside", formatter: a[0],
        fontFamily: FONT, fontSize: 21, color: curveColor[k],
        backgroundColor: "#fff", borderColor: curveColor[k], borderWidth: 1.3,
        borderType: k < 2 ? "solid" : "dashed", padding: [3, 2, 1, 2]
      }
    }))
  })
  series.push({
    type: "scatter", xAxisIndex: p.g, yAxisIndex: p.g, silent: true, z: 6,
    symbolSize: 1, itemStyle: { color: "rgba(0,0,0,0)" },
    data: p.notes.map((nt, k) => ({
      value: [nt[1], nt[2]],
      label: { show: true, position: "left", distance: 0, formatter: nt[0], fontFamily: FONT, fontSize: 20, color: noteColor[k] }
    }))
  })
})

// ---------- E: correlation heatmaps with dendrograms ----------
const heatPanels = [
  { g: 12, names: ucNames, corr: ucCorr, merges: ucMerges, top: 14, left: 15, hmax: 43 },
  { g: 13, names: cdNames, corr: cdCorr, merges: cdMerges, top: 16, left: 17, hmax: 55 }
]
const heatSeries = []
function dendroSegments(n, merges) {
  const pos = [], hgt = [], segs = []
  for (let i = 0; i < n; i++) { pos.push(i); hgt.push(0) }
  merges.forEach(([a, b, h]) => {
    segs.push([[pos[a], hgt[a]], [pos[a], h], [pos[b], h], [pos[b], hgt[b]]])
    pos.push((pos[a] + pos[b]) / 2)
    hgt.push(h)
  })
  return segs
}
const dendroSeries = (gi, segs) => ({
  type: "custom", xAxisIndex: gi, yAxisIndex: gi, silent: true,
  data: segs.map((s, i) => [i]),
  renderItem(params, api) {
    const s = segs[api.value(0)]
    return { type: "polyline", shape: { points: s.map(pt => api.coord(pt)) }, style: { stroke: "#222", lineWidth: 1.5, fill: "none" } }
  }
})
heatPanels.forEach(p => {
  const n = p.names.length
  xAxes[p.g] = {
    type: "category", gridIndex: p.g, data: p.names, position: "bottom",
    axisLine: { show: false }, axisTick: { show: false }, splitLine: { show: false },
    axisLabel: { rotate: -90, interval: 0, fontFamily: FONT, fontSize: 24, color: "#000", margin: 6 }
  }
  yAxes[p.g] = {
    type: "category", gridIndex: p.g, data: p.names, inverse: true, position: "right",
    axisLine: { show: false }, axisTick: { show: false }, splitLine: { show: false },
    axisLabel: { interval: 0, fontFamily: FONT, fontSize: 24, color: "#000", margin: 5 }
  }
  const data = []
  p.corr.forEach((row, r) => row.forEach((v, c) => data.push([c, r, v])))
  heatSeries.push(series.length)
  series.push({
    type: "heatmap", xAxisIndex: p.g, yAxisIndex: p.g, silent: true, data,
    itemStyle: { borderColor: "#9b9b9b", borderWidth: 2 },
    label: {
      show: true, fontFamily: FONT, fontSize: 19, color: "#3b3b3b",
      formatter: q => (q.value[0] === q.value[1] ? "" : q.value[2].toFixed(2))
    },
    emphasis: { disabled: true }
  })
  const segs = dendroSegments(n, p.merges)
  // top dendrogram: x = column position, y = merge height
  xAxes[p.top] = hiddenAxis(p.top, -0.5, n - 0.5)
  yAxes[p.top] = hiddenAxis(p.top, 0, p.hmax)
  series.push(dendroSeries(p.top, segs))
  // left dendrogram: x = merge height (growing leftwards), y = row position
  xAxes[p.left] = hiddenAxis(p.left, 0, p.hmax, true)
  yAxes[p.left] = hiddenAxis(p.left, -0.5, n - 0.5, true)
  series.push(dendroSeries(p.left, segs.map(s => s.map(([a, b]) => [b, a]))))
})

// colour legend
xAxes[18] = {
  type: "value", gridIndex: 18, min: 0, max: 1, interval: 0.2,
  axisLine: { show: false }, axisTick: { show: false }, splitLine: { show: false },
  axisLabel: { customValues: legendTicks, formatter: v => (v === 0 || v === 1 ? String(v) : v.toFixed(1)), fontFamily: FONT, fontSize: 18, color: "#222", margin: 5 }
}
yAxes[18] = hiddenAxis(18, 0, 1)
series.push({
  type: "custom", xAxisIndex: 18, yAxisIndex: 18, silent: true,
  data: corrColors.map((c, i) => [corrBreaks[i], corrBreaks[i + 1], i]),
  renderItem(params, api) {
    const p0 = api.coord([api.value(0), 0])
    const p1 = api.coord([api.value(1), 1])
    return {
      type: "rect",
      shape: { x: p0[0], y: p1[1], width: p1[0] - p0[0], height: p0[1] - p1[1] },
      style: { fill: corrColors[api.value(2)], stroke: "#9b9b9b", lineWidth: 1.5 }
    }
  }
})

// ---------- text, borders and hand-made legends ----------
function txt(x, y, text, o = {}) {
  const align = o.align || "left"
  return {
    type: "text", x, y, rotation: o.rot || 0, z: 100, silent: true,
    style: {
      text, fill: o.color || "#000",
      font: (o.bold ? "bold " : "") + (o.size || 28) + "px " + FONT,
      align, verticalAlign: "middle", textAlign: align, textVerticalAlign: "middle"
    }
  }
}
function seg(x1, y1, x2, y2, color, dash) {
  return {
    type: "line", z: 100, silent: true, shape: { x1, y1, x2, y2 },
    style: { stroke: color, lineWidth: 4.5, lineDash: dash ? [8, 6] : null }
  }
}
const graphic = []
layout.slice(0, 12).forEach(g => {
  graphic.push({
    type: "rect", z: 90, silent: true,
    shape: { x: g.left, y: g.top, width: g.width, height: g.height },
    style: { fill: "none", stroke: "#333", lineWidth: 1.4 }
  })
})
graphic.push(
  txt(10, 20, "A.", { bold: true }),
  txt(201, 21, "IBD Disease", { align: "center" }),
  txt(453, 21, "B. Clinical severity", { align: "center" }),
  txt(821, 21, "C. Endoscopic Disease severity", { align: "center" }),
  txt(1068, 22, "D. Histology Index"),
  txt(42, 83, "cirMIS", { align: "center", bold: true, size: 25, color: "#e8202a" }),
  txt(43, 439, "Inflammation score (Mean and 95%CI)", { align: "center", rot: Math.PI / 2 }),
  txt(481, 403, "HBI", { align: "center", size: 27 }),
  txt(488, 787, "SCCAI", { align: "center", size: 27 }),
  txt(823, 403, "SESCD", { align: "center", size: 27 }),
  txt(795, 786, "Mayo Endo Score", { align: "center", size: 27 }),
  txt(1263, 402, "General histology activity score", { align: "center" }),
  txt(1293, 787, "Nancy Score", { align: "center" }),
  txt(11, 830, "E.", { bold: true }),
  txt(48, 830, "UC"),
  txt(24, 1393, "CD"),
  txt(588, 1859, "Spearman Correlation", { align: "center", size: 24.5 })
)
// blood drop next to cirMIS
graphic.push({
  type: "group", x: 27, y: 95, z: 100, silent: true,
  children: [
    { type: "circle", shape: { cx: 14, cy: 40, r: 14 }, style: { fill: "#e8202a" } },
    { type: "polygon", shape: { points: [[14, 0], [18, 10], [25, 24], [28, 38], [0, 38], [3, 24], [10, 10]], smooth: 0.35 }, style: { fill: "#e8202a" } },
    { type: "arc", shape: { cx: 14, cy: 38, r: 8, startAngle: Math.PI * 0.6, endAngle: Math.PI * 1.15 }, style: { fill: "none", stroke: "#f6b8bb", lineWidth: 3 } }
  ]
})
// ROC legends and axis titles
const rocLegend = [
  { letter: "F.", lx: 593, ly: 889, m1: "iMIS", m2: "CRP", c1: 845, c2: 927, my: 877, ex: 646, ey: 889, hx: 643, hy: 922, s: [817, 872], d: [897, 950], ry: 897, by: 927, sx: 878, sy: 1312, sens: [602, 1100] },
  { letter: "G.", lx: 1095, ly: 889, m1: "iMIS", m2: "fCalPro", c1: 1348, c2: 1447, my: 877, ex: 1149, ey: 889, hx: 1147, hy: 922, s: [1320, 1375], d: [1400, 1453], ry: 897, by: 927, sx: 1323, sy: 1312 },
  { letter: "H.", lx: 593, ly: 1370, m1: "cirMIS", m2: "CRP", c1: 866, c2: 949, my: 1389, ex: 653, ey: 1403, hx: 653, hy: 1436, s: [838, 894], d: [918, 973], ry: 1411, by: 1440, sx: 878, sy: 1828, sens: [602, 1622] },
  { letter: "I.", lx: 1095, ly: 1370, m1: "cirMIS", m2: "fCalPro", c1: 1342, c2: 1432, my: 1389, ex: 1137, ey: 1403, hx: 1134, hy: 1436, s: [1318, 1373], d: [1398, 1451], ry: 1411, by: 1440, sx: 1323, sy: 1828 }
]
rocLegend.forEach(L => {
  graphic.push(
    txt(L.lx, L.ly, L.letter, { bold: true }),
    txt(L.c1, L.my, L.m1, { align: "center", size: 26 }),
    txt(L.c2, L.my, L.m2, { align: "center", size: 26 }),
    txt(L.ex, L.ey, "Endo Remission", { size: 22.6, color: RED }),
    txt(L.hx, L.hy, "Histo Remission", { size: 22.6, color: BLUE }),
    seg(L.s[0], L.ry, L.s[1], L.ry, RED, false),
    seg(L.d[0], L.ry, L.d[1], L.ry, RED, true),
    seg(L.s[0], L.by, L.s[1], L.by, BLUE, false),
    seg(L.d[0], L.by, L.d[1], L.by, BLUE, true),
    txt(L.sx, L.sy, "specificity", { align: "center", size: 22.6 })
  )
  if (L.sens) graphic.push(txt(L.sens[0], L.sens[1], "sensitivity", { align: "center", size: 22.6, rot: Math.PI / 2 }))
})

const chart = echarts.init(document.getElementById("chart"), null, { width: 1537, height: 1920 })
chart.setOption({
  animation: false,
  backgroundColor: "#fff",
  textStyle: { fontFamily: FONT },
  grid: layout.map(g => Object.assign({ show: false, containLabel: false, outerBoundsMode: "none" }, g)),
  xAxis: xAxes,
  yAxis: yAxes,
  visualMap: [{
    type: "piecewise", show: false, seriesIndex: heatSeries, dimension: 2,
    pieces: corrColors.map((c, i) => (i === corrColors.length - 1
      ? { gte: corrBreaks[i], lte: 1.01, color: c }
      : { gte: corrBreaks[i], lt: corrBreaks[i + 1], color: c }))
  }],
  series,
  graphic
})
</script>
</body>
</html>
